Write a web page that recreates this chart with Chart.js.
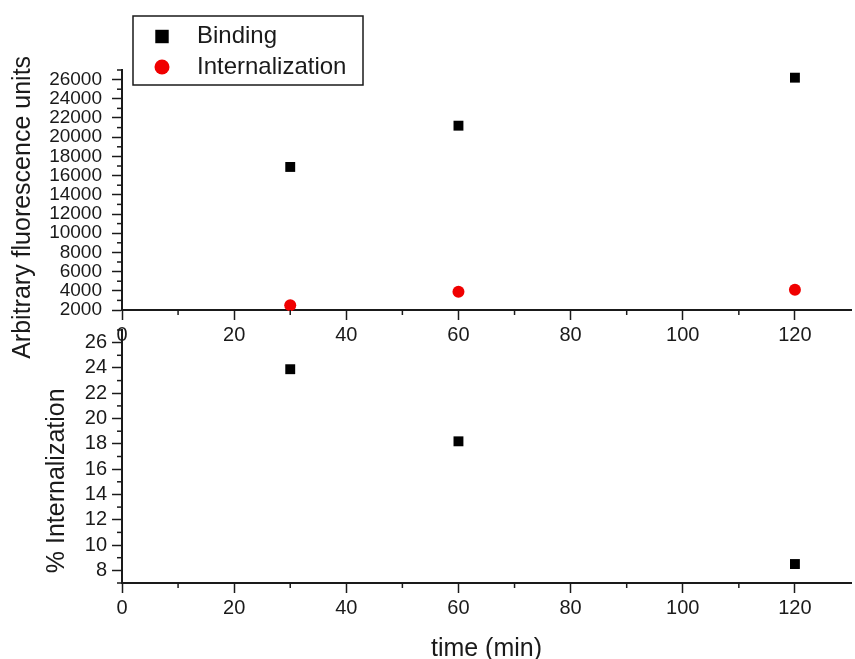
<!DOCTYPE html>
<html>
<head>
<meta charset="utf-8">
<script src="https://cdn.jsdelivr.net/npm/chart.js@4/dist/chart.umd.min.js"></script>
<style>
  html, body { margin: 0; padding: 0; background: #fff; overflow: hidden; }
  body { position: relative; width: 855px; height: 659px; }
  canvas { position: absolute; left: 0; }
  #unitsChart { top: 0; }
  #percentChart { top: 300px; }
</style>
</head>
<body>
<canvas id="unitsChart" width="858" height="364"></canvas>
<canvas id="percentChart" width="858" height="359"></canvas>
<script>
// time points (min) and measured values
const timePoints = [30, 60, 120];
const bindingUnits = [16900, 21200, 26200];
const internalizationUnits = [2500, 3900, 4100];
const internalizationPercent = [23.9, 18.2, 8.5];

const INK = '#1a1a1a';
Chart.defaults.font.family = '"Liberation Sans", Arial, sans-serif';
Chart.defaults.color = INK;

function toPoints(xs, ys) {
    return xs.map((x, i) => ({ x: x, y: ys[i] }));
}

// tick list; only multiples of step*labelEvery get a label, the rest are minor
function stepTicks(min, max, step, labelEvery) {
    return axis => {
        const ticks = [];
        for (let v = min; v <= max + 1e-9; v += step) {
            const minor = Math.round(v / step) % labelEvery !== 0;
            ticks.push({ value: v, minor: minor });
        }
        axis.ticks = ticks;
    };
}

// draws the short unlabelled ticks
const minorTicks = {
    id: 'minorTicks',
    afterDraw(chart, args, opts) {
        const ctx = chart.ctx;
        ctx.save();
        ctx.strokeStyle = INK;
        ctx.lineWidth = 1.5;
        Object.values(chart.scales).forEach(scale => {
            scale.ticks.forEach(tick => {
                if (!tick.minor) return;
                const p = scale.getPixelForValue(tick.value);
                ctx.beginPath();
                if (scale.isHorizontal()) {
                    ctx.moveTo(p, scale.top);
                    ctx.lineTo(p, scale.top + opts.length);
                } else {
                    ctx.moveTo(scale.right - opts.length, p);
                    ctx.lineTo(scale.right, p);
                }
                ctx.stroke();
            });
        });
        ctx.restore();
    }
};

// framed legend with one row per dataset
const boxLegend = {
    id: 'boxLegend',
    afterDraw(chart, args, opts) {
        if (!opts.display) return;
        const ctx = chart.ctx;
        ctx.save();
        ctx.fillStyle = '#fff';
        ctx.fillRect(opts.left, opts.top, opts.width, opts.height);
        ctx.strokeStyle = INK;
        ctx.lineWidth = 1.5;
        ctx.strokeRect(opts.left, opts.top, opts.width, opts.height);
        ctx.font = opts.fontSize + 'px ' + Chart.defaults.font.family;
        ctx.textBaseline = 'middle';
        chart.data.datasets.forEach((ds, i) => {
            const y = opts.top + opts.firstRow + i * opts.rowGap;
            ctx.fillStyle = ds.backgroundColor;
            Chart.helpers.drawPoint(ctx, {
                pointStyle: ds.pointStyle,
                radius: opts.symbolRadius[i],
                rotation: 0,
                borderWidth: 0
            }, opts.left + opts.symbolX, y);
            ctx.fillStyle = INK;
            ctx.fillText(ds.label, opts.left + opts.textX, y);
        });
        ctx.restore();
    }
};

function xAxis(height) {
    return {
        type: 'linear',
        min: 0,
        max: 130,
        afterBuildTicks: stepTicks(0, 120, 10, 2),
        afterFit: scale => { scale.height = height; },
        border: { color: INK, width: 2 },
        grid: {
            drawOnChartArea: false,
            tickLength: 10,
            tickWidth: 1.5,
            tickColor: c => (c.tick && c.tick.minor ? 'transparent' : INK)
        },
        ticks: {
            autoSkip: false,
            maxRotation: 0,
            padding: 3,
            font: { size: 20 },
            callback: (v, i, ticks) => (ticks[i].minor ? '' : v)
        }
    };
}

function yAxis(min, max, step, fontSize, pad, titleText, titlePad) {
    return {
        type: 'linear',
        min: min,
        max: max,
        afterBuildTicks: stepTicks(min, max, step, 2),
        afterFit: scale => { scale.width = 122; },
        border: { color: INK, width: 2 },
        grid: {
            drawOnChartArea: false,
            tickLength: 10,
            tickWidth: 1.5,
            tickColor: c => (c.tick && c.tick.minor ? 'transparent' : INK)
        },
        ticks: {
            autoSkip: false,
            padding: pad,
            font: { size: fontSize },
            callback: (v, i, ticks) => (ticks[i].minor ? '' : v)
        },
        title: {
            display: true,
            text: titleText,
            font: { size: 25 },
            padding: { top: titlePad, bottom: 0 }
        }
    };
}

new Chart(document.getElementById('unitsChart'), {
    type: 'scatter',
    data: {
        datasets: [
            {
                label: 'Binding',
                data: toPoints(timePoints, bindingUnits),
                pointStyle: 'rect',
                pointRadius: 7,
                backgroundColor: '#000',
                borderWidth: 0,
                clip: false
            },
            {
                label: 'Internalization',
                data: toPoints(timePoints, internalizationUnits),
                pointStyle: 'circle',
                pointRadius: 6,
                backgroundColor: '#f00000',
                borderWidth: 0,
                clip: false
            }
        ]
    },
    options: {
        responsive: false,
        animation: false,
        layout: { padding: { top: 70, left: 0, right: 0, bottom: 0 } },
        scales: {
            x: xAxis(54),
            y: yAxis(2000, 27000, 1000, 19, 10,
                'Arbitrary fluorescence units\u00a0\u00a0\u00a0\u00a0\u00a0', 8.5)
        },
        plugins: {
            legend: { display: false },
            tooltip: { enabled: false },
            minorTicks: { length: 5 },
            boxLegend: {
                display: true,
                left: 133, top: 16, width: 230, height: 69,
                firstRow: 20.5, rowGap: 30.5,
                symbolX: 29, textX: 64,
                symbolRadius: [9.5, 7.5],
                fontSize: 24
            }
        }
    },
    plugins: [minorTicks, boxLegend]
});

new Chart(document.getElementById('percentChart'), {
    type: 'scatter',
    data: {
        datasets: [
            {
                label: '% Internalization',
                data: toPoints(timePoints, internalizationPercent),
                pointStyle: 'rect',
                pointRadius: 7,
                backgroundColor: '#000',
                borderWidth: 0,
                clip: false
            }
        ]
    },
    options: {
        responsive: false,
        animation: false,
        layout: { padding: { top: 30, left: 0, right: 0, bottom: 0 } },
        scales: {
            x: Object.assign(xAxis(76), {
                title: {
                    display: true,
                    text: 'time (min)',
                    font: { size: 25, lineHeight: 0.8 },
                    padding: { top: 0, bottom: 0 }
                }
            }),
            y: yAxis(7, 27, 1, 20, 5,
                '% Internalization\u00a0\u00a0\u00a0\u00a0\u00a0\u00a0\u00a0', 42.5)
        },
        plugins: {
            legend: { display: false },
            tooltip: { enabled: false },
            minorTicks: { length: 5 },
            boxLegend: { display: false }
        }
    },
    plugins: [minorTicks, boxLegend]
});
</script>
</body>
</html>
